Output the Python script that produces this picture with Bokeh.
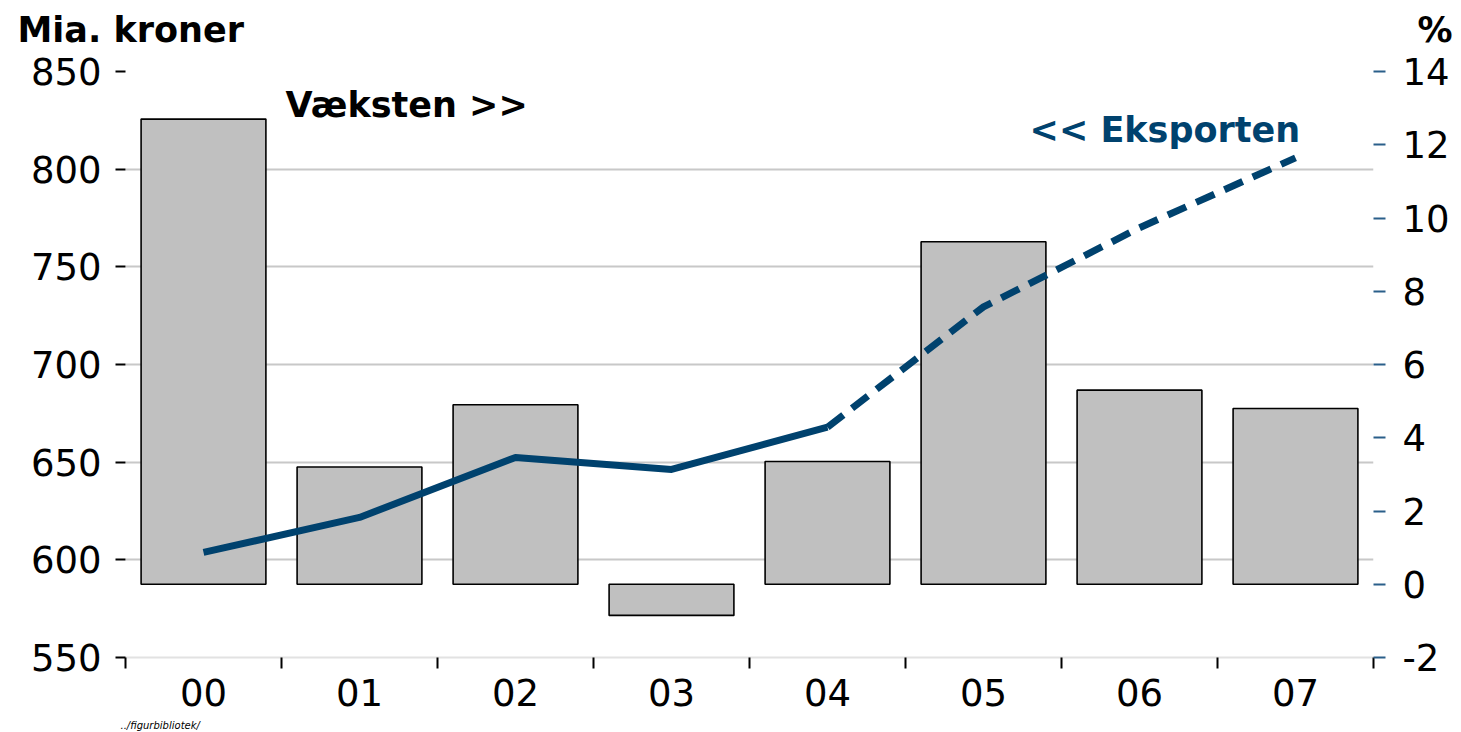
import numpy as np
from bokeh.plotting import figure
from bokeh.layouts import column
from bokeh.models import Range1d, LinearAxis, FixedTicker, Label
from bokeh.core.properties import value
from bokeh.embed import file_html
from bokeh.resources import INLINE

# ---- data ----
categories = ["00", "01", "02", "03", "04", "05", "06", "07"]
growth_pct = [12.7, 3.2, 4.9, -0.85, 3.35, 9.35, 5.3, 4.8]          # bars, right axis (%)
export_bn = [603.8, 621.7, 652.4, 646.3, 667.9, 729.5, 770.0, 805.8]  # line, left axis (Mia. kroner)
n_actual = 5  # years 00-04 solid, 04-07 dashed (forecast)
left_ticks = [550, 600, 650, 700, 750, 800, 850]
right_ticks = [-2, 0, 2, 4, 6, 8, 10, 12, 14]
left_unit = "Mia. kroner"
right_unit = "%"
source_note = "../figurbibliotek/"

FONT = "DejaVu Sans"
BLUE = "#00426E"
TICKBLUE = "#2A5F8A"
W = 1461
TOP_H, MAIN_H, BOT_H = 50, 664, 18

x = np.arange(len(categories))


def strip(h):
    f = figure(width=W, height=h, output_backend="svg", toolbar_location=None,
               x_range=Range1d(0, W), y_range=Range1d(0, h),
               x_axis_type=None, y_axis_type=None, frame_align=False,
               min_border_left=0, min_border_right=0, min_border_top=0, min_border_bottom=0,
               outline_line_color=None, background_fill_color="white", border_fill_color="white")
    f.xgrid.visible = False
    f.ygrid.visible = False
    return f


# ---- header strip (unit labels) ----
top = strip(TOP_H)
top.text(x=[17], y=[21], text=[left_unit], text_font=value(FONT), text_font_style="bold",
         text_font_size="35px", text_color="black", text_baseline="alphabetic")
top.text(x=[1452], y=[21], text=[right_unit], text_font=value(FONT), text_font_style="bold",
         text_font_size="35px", text_color="black", text_align="right", text_baseline="alphabetic")

# ---- main chart ----
p = figure(width=W, height=MAIN_H, output_backend="svg", toolbar_location=None,
           x_range=Range1d(-0.5, len(categories) - 0.5),
           y_range=Range1d(550, 850), frame_align=False,
           min_border_left=125, min_border_right=88, min_border_top=21, min_border_bottom=57,
           outline_line_color=None, background_fill_color="white", border_fill_color="white")
p.extra_y_ranges = {"pct": Range1d(-2, 14)}

p.xgrid.grid_line_color = None
p.ygrid.grid_line_color = "#C8C8C8"
p.ygrid.grid_line_width = 2
p.ygrid.ticker = FixedTicker(ticks=left_ticks)

p.vbar(x=x, top=growth_pct, bottom=0, width=0.8, y_range_name="pct",
       fill_color="#C0C0C0", line_color="black", line_width=1.6)

p.line(x[:n_actual], export_bn[:n_actual], line_color=BLUE, line_width=7, line_join="round")
p.line(x[n_actual - 1:], export_bn[n_actual - 1:], line_color=BLUE, line_width=7,
       line_dash="20 11")

la = p.yaxis[0]
la.ticker = FixedTicker(ticks=left_ticks)
la.axis_line_color = None
la.major_tick_line_color = "black"
la.major_tick_line_width = 2
la.major_tick_out = 10
la.major_tick_in = 0
la.minor_tick_line_color = None
la.major_label_standoff = 14
la.major_label_text_font = FONT
la.major_label_text_font_size = "37px"
la.major_label_text_color = "black"

ra = LinearAxis(y_range_name="pct", ticker=FixedTicker(ticks=right_ticks))
ra.major_label_overrides = {t: str(t) for t in right_ticks}
ra.axis_line_color = None
ra.major_tick_line_color = TICKBLUE
ra.major_tick_line_width = 2
ra.major_tick_out = 12
ra.major_tick_in = 0
ra.minor_tick_line_color = None
ra.major_label_standoff = 17
ra.major_label_text_font = FONT
ra.major_label_text_font_size = "37px"
ra.major_label_text_color = "black"
p.add_layout(ra, "right")

xa = p.xaxis[0]
xa.ticker = FixedTicker(ticks=list(x), minor_ticks=list(np.arange(len(categories) + 1) - 0.5))
xa.major_label_overrides = {int(i): c for i, c in zip(x, categories)}
xa.axis_line_color = "#E2E2E2"
xa.axis_line_width = 2
xa.major_tick_line_color = None
xa.minor_tick_line_color = "black"
xa.minor_tick_line_width = 2
xa.minor_tick_out = 11
xa.minor_tick_in = 0
xa.major_label_standoff = 10
xa.major_label_text_font = FONT
xa.major_label_text_font_size = "37px"
xa.major_label_text_color = "black"

p.add_layout(Label(x=0.526, y=832.7, text="Væksten >>",
                   text_font=FONT, text_font_style="bold", text_font_size="35px",
                   text_color="black", text_baseline="alphabetic"))
p.add_layout(Label(x=7.03, y=820.2, text="<< Eksporten",
                   text_font=FONT, text_font_style="bold", text_font_size="35px",
                   text_color=BLUE, text_align="right", text_baseline="alphabetic"))

# ---- footer strip (source note) ----
bot = strip(BOT_H)
bot.text(x=[120], y=[7], text=[source_note], text_font=value(FONT), text_font_style="italic",
         text_font_size="10px", text_color="black", text_baseline="alphabetic")

layout = column(top, p, bot, spacing=0)
open("out.html", "w").write(file_html(layout, INLINE))
